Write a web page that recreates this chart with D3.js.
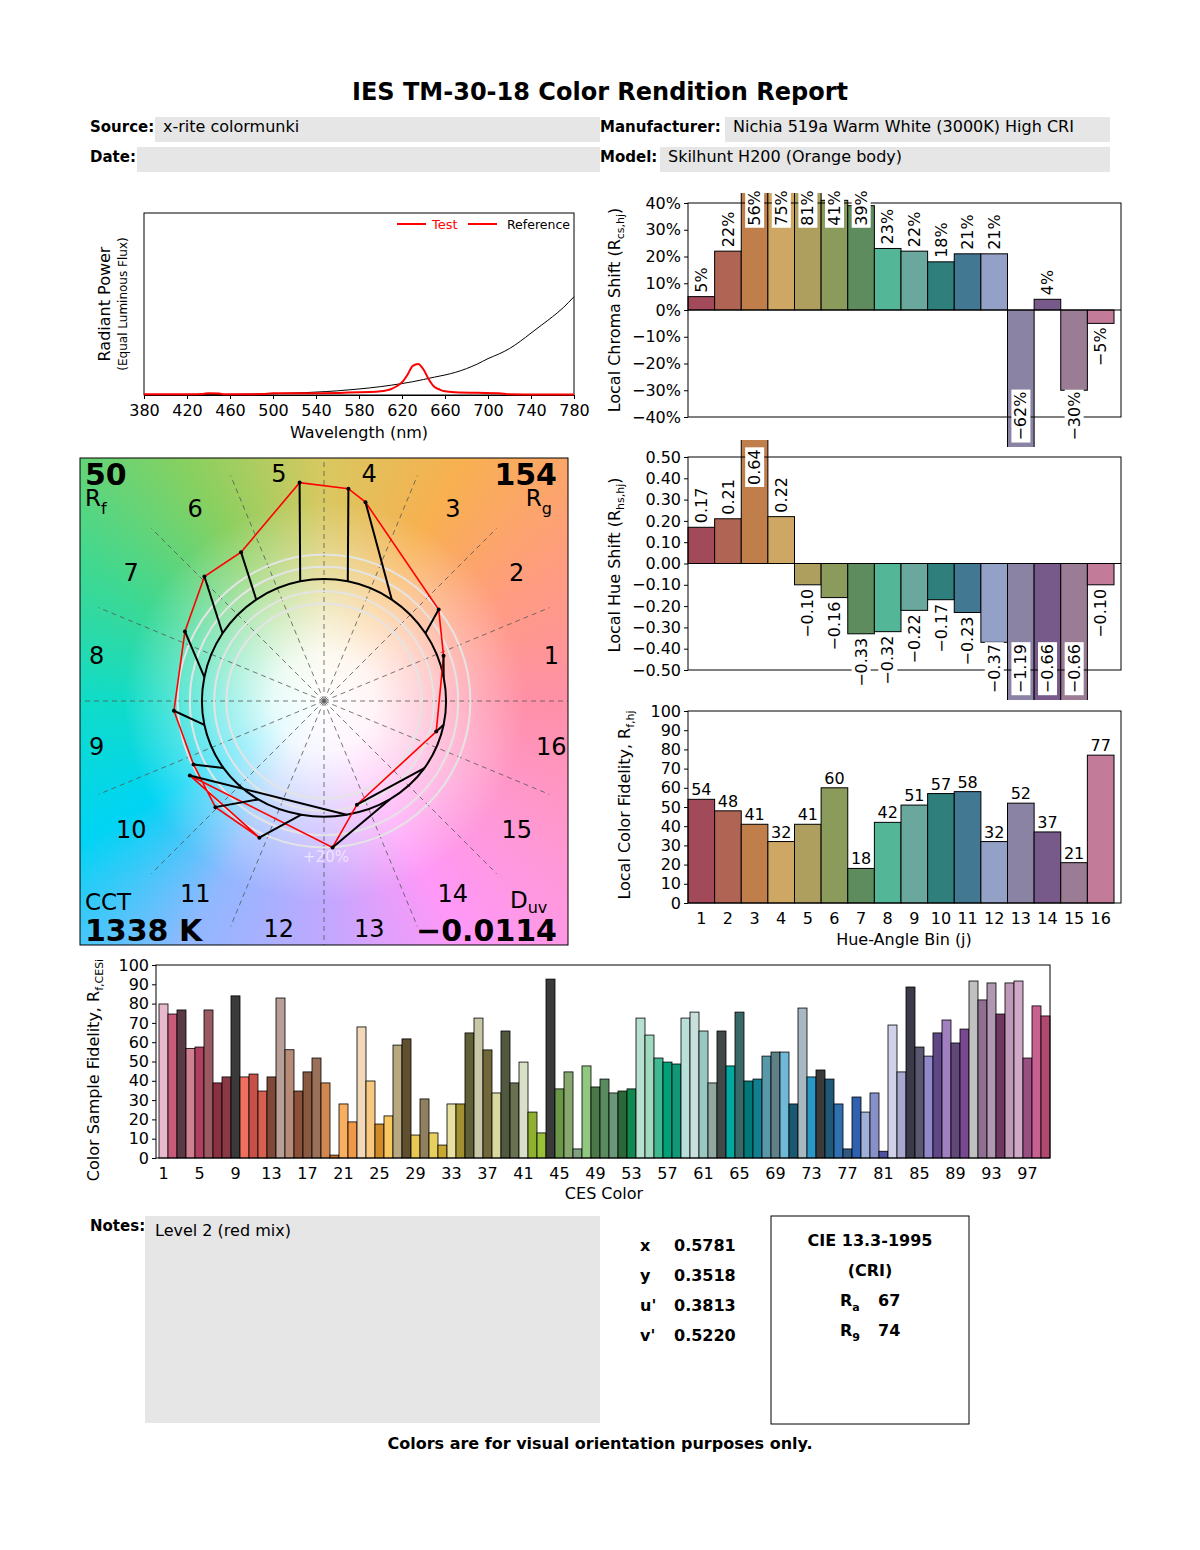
<!DOCTYPE html>
<html lang="en">
<head>
<meta charset="UTF-8">
<title>IES TM-30-18 Color Rendition Report</title>
<script src="https://cdn.jsdelivr.net/npm/d3@7"></script>
<style>
  body { margin: 0; background: #fff; font-family: "DejaVu Sans", sans-serif; }
  #wrap { position: relative; width: 1200px; height: 1550px; }
  #vg { position: absolute; left: 80px; top: 458px; width: 488px; height: 487px;
    background:
      radial-gradient(circle at 50% 50%, rgba(255,255,255,1) 0px, rgba(255,255,255,0.9) 50px, rgba(255,255,255,0.45) 120px, rgba(255,255,255,0) 200px),
      conic-gradient(from 90deg at 50% 50%, #ff90a8 0deg, #ff98d0 30deg, #ff98f8 60deg, #c0a8ff 90deg, #90b8ff 120deg, #00d4f4 150deg, #10dcc8 180deg, #40d890 210deg, #88d060 240deg, #d8c860 270deg, #f8b050 300deg, #ff9c80 330deg, #ff90a8 360deg);
  }
  svg { position: absolute; left: 0; top: 0; }
</style>
</head>
<body>
<div id="wrap">
  <div id="vg"></div>
  <svg id="chart" width="1200" height="1550"></svg>
</div>
<script>
// ---- data ----
const binLabels = d3.range(1, 17);
const binColors = ["#a34a5a", "#b06454", "#c07e4a", "#cfa765", "#ae9f5e", "#8b9b5c", "#5f8c5e", "#52b697",
  "#6aa89d", "#2f7f7c", "#437893", "#94a1c6", "#8a83a3", "#785a8a", "#9a7d94", "#c27c9a"];
const chromaShift = [0.05, 0.22, 0.56, 0.75, 0.81, 0.41, 0.39, 0.23, 0.22, 0.18, 0.21, 0.21, -0.62, 0.04, -0.30, -0.05];
const hueShift = [0.17, 0.21, 0.64, 0.22, -0.10, -0.16, -0.33, -0.32, -0.22, -0.17, -0.23, -0.37, -1.19, -0.66, -0.66, -0.10];
const binFidelity = [54, 48, 41, 32, 41, 60, 18, 42, 51, 57, 58, 32, 52, 37, 21, 77];

const cesValues = [79.8, 74.6, 76.7, 56.8, 57.5, 76.7, 38.9, 42, 84, 42, 43.5, 34.7, 42, 82.9, 56.1, 34.7, 44.6, 51.8, 38.9, 1.5,
  28, 18.7, 67.9, 39.9, 17.6, 21.8, 58.5, 61.7, 11.9, 30.6, 13, 6.7, 28, 28, 64.8, 72.5, 56, 33.7, 65.8, 38.9,
  49.7, 23.8, 13, 92.7, 35.8, 44.6, 4.7, 47.7, 36.8, 40.9, 33.7, 34.7, 35.8, 72.5, 63.7, 51.8, 49.7, 48.7, 72.5, 75.6,
  65.8, 38.9, 65.8, 47.7, 75.6, 39.9, 40.9, 52.8, 54.9, 54.9, 28, 77.7, 42, 45.6, 40.9, 28, 4.7, 31.6, 23.8, 33.7,
  3.5, 68.9, 44.6, 88.6, 57.5, 52.8, 64.8, 71.5, 59.6, 66.8, 91.7, 81.9, 90.7, 74.6, 90.7, 91.7, 51.8, 78.8, 73.6];
const cesColors = ["#e8b8cc", "#c85a7a", "#5a3a44", "#d08090", "#b04060", "#9a5a62", "#8a3040", "#8a3a44", "#3a3a3a", "#f07060",
  "#c85048", "#d86050", "#804838", "#b8a098", "#b88a78", "#8a5038", "#8a5a40", "#9a7058", "#d08850", "#d07020",
  "#f8b060", "#f09848", "#f0d8b8", "#f8c880", "#d08a28", "#f8c860", "#b8a880", "#605030", "#e8c850", "#908060",
  "#e8d060", "#c8a830", "#e8e0a0", "#a09030", "#606038", "#c8c8a8", "#706838", "#d8d8a0", "#505840", "#687050",
  "#d8e0c8", "#90b030", "#98c038", "#3a3a3a", "#6a9848", "#88a870", "#80a080", "#90c880", "#4a7848", "#5a8a60",
  "#6a9878", "#2a6838", "#108850", "#b8e0d0", "#a0d8c0", "#40b890", "#00a078", "#109878", "#b8e0d8", "#c8e0dc",
  "#98c8c0", "#90a8a0", "#404848", "#00a8a0", "#386868", "#007878", "#108090", "#5898a8", "#608088", "#70b8d8",
  "#185870", "#a8b8c0", "#2898c8", "#3a3a3a", "#205878", "#3070b0", "#305880", "#3060b0", "#a0b0d8", "#8890c8",
  "#5050a0", "#d0d0e8", "#a8a8d0", "#3a3a48", "#585870", "#9088c8", "#604888", "#a080c0", "#604878", "#784890",
  "#c0c0c0", "#907090", "#b098b0", "#703860", "#c098b8", "#d0a8c8", "#985080", "#c86090", "#b04870"];
const cesTicks = d3.range(1, 100, 4);

// spectrum, relative power (1 = top of plot)
const wavelengths = d3.range(380, 781, 10);
const refPower = [0, 0, 0, 0.001, 0.001, 0.001, 0.002, 0.002, 0.003, 0.004, 0.005, 0.006, 0.007, 0.009, 0.011, 0.013, 0.016,
  0.019, 0.023, 0.028, 0.033, 0.039, 0.046, 0.054, 0.063, 0.073, 0.085, 0.098, 0.11, 0.125, 0.145, 0.17, 0.20,
  0.225, 0.255, 0.295, 0.34, 0.385, 0.43, 0.48, 0.54];
const testWl = [380, 400, 420, 435, 440, 450, 455, 470, 490, 500, 520, 540, 560, 570, 590, 600, 605, 610, 615, 620, 625,
  630, 635, 640, 645, 650, 655, 660, 670, 690, 710, 720, 740, 780];
const testPower = [0.004, 0.004, 0.004, 0.006, 0.01, 0.008, 0.004, 0.004, 0.005, 0.009, 0.01, 0.01, 0.011, 0.014, 0.016, 0.02,
  0.025, 0.033, 0.048, 0.07, 0.11, 0.16, 0.17, 0.14, 0.085, 0.045, 0.03, 0.02, 0.015, 0.012, 0.01, 0.004, 0.003, 0.003];

// vector graphic: test & reference chroma coords per hue bin (1 = reference radius)
const testX = [0.98, 0.94, 0.34, 0.20, -0.20, -0.68, -0.98, -1.14, -1.23, -1.07, -0.89, -0.53, -1.10, 0.07, 0.27, 0.92];
const testY = [0.37, 0.75, 1.63, 1.74, 1.79, 1.22, 1.02, 0.57, -0.08, -0.52, -0.87, -1.12, -0.61, -1.20, -0.85, -0.25];
const refRadius = [1.0, 1.0, 1.0, 1.0, 1.0, 1.0, 1.0, 1.0, 1.0, 0.99, 0.97, 0.95, 0.95, 0.97, 0.99, 1.0];
const ringRadii = [0.8, 0.9, 1.1, 1.2];

const svg = d3.select("#chart");
const defs = svg.append("defs");
const F = "DejaVu Sans, sans-serif";

// ---- header ----
svg.append("text").attr("x", 600).attr("y", 100).attr("text-anchor", "middle")
  .attr("font-size", 24).attr("font-weight", "bold").text("IES TM-30-18 Color Rendition Report");
const fields = [
  { label: "Source:", lx: 90, bx: 155, bw: 445, y: 117, value: "x-rite colormunki" },
  { label: "Date:", lx: 90, bx: 137, bw: 463, y: 147, value: "" },
  { label: "Manufacturer:", lx: 600, bx: 725, bw: 385, y: 117, value: "Nichia 519a Warm White (3000K) High CRI" },
  { label: "Model:", lx: 600, bx: 660, bw: 450, y: 147, value: "Skilhunt H200 (Orange body)" }
];
fields.forEach(f => {
  svg.append("rect").attr("x", f.bx).attr("y", f.y).attr("width", f.bw).attr("height", 25).attr("fill", "#e6e6e6");
  svg.append("text").attr("x", f.lx).attr("y", f.y + 15).attr("font-size", 15).attr("font-weight", "bold").text(f.label);
  svg.append("text").attr("x", f.bx + 8).attr("y", f.y + 15).attr("font-size", 16).text(f.value);
});

// ---- spectrum ----
{
  const x = d3.scaleLinear().domain([380, 780]).range([144, 574]);
  const y = d3.scaleLinear().domain([0, 1]).range([395, 213]);
  svg.append("rect").attr("x", 144).attr("y", 213).attr("width", 430).attr("height", 182)
    .attr("fill", "none").attr("stroke", "#000");
  svg.append("g").attr("transform", "translate(0,395)")
    .call(d3.axisBottom(x).tickValues(d3.range(380, 781, 40)).tickSize(4).tickSizeOuter(0))
    .call(g => g.selectAll("text").attr("font-size", 16).attr("font-family", F).attr("dy", "0.9em"));
  const line = d3.line().x(d => x(d[0])).y(d => y(d[1])).curve(d3.curveMonotoneX);
  svg.append("path").datum(wavelengths.map((w, i) => [w, refPower[i]]))
    .attr("d", line).attr("fill", "none").attr("stroke", "#000").attr("stroke-width", 1);
  svg.append("path").datum(testWl.map((w, i) => [w, testPower[i]]))
    .attr("d", line).attr("fill", "none").attr("stroke", "#f00").attr("stroke-width", 2);
  svg.append("text").attr("x", 359).attr("y", 438).attr("text-anchor", "middle").attr("font-size", 16).text("Wavelength (nm)");
  svg.append("text").attr("transform", "translate(110,304) rotate(-90)").attr("text-anchor", "middle")
    .attr("font-size", 16).text("Radiant Power");
  svg.append("text").attr("transform", "translate(127,304) rotate(-90)").attr("text-anchor", "middle")
    .attr("font-size", 12).text("(Equal Luminous Flux)");
  svg.append("line").attr("x1", 397).attr("x2", 426).attr("y1", 224).attr("y2", 224).attr("stroke", "#f00").attr("stroke-width", 2);
  svg.append("text").attr("x", 432).attr("y", 229).attr("font-size", 13).attr("fill", "#f00").text("Test");
  svg.append("line").attr("x1", 468).attr("x2", 497).attr("y1", 224).attr("y2", 224).attr("stroke", "#f00").attr("stroke-width", 2);
  svg.append("text").attr("x", 507).attr("y", 229).attr("font-size", 12.5).text("Reference");
}

// ---- vector graphic ----
{
  const cx = 324, cy = 701, R = 122;
  const sx = d3.scaleLinear().domain([0, 1]).range([cx, cx + R]);
  const sy = d3.scaleLinear().domain([0, 1]).range([cy, cy - R]);
  defs.append("clipPath").attr("id", "vclip").append("rect")
    .attr("x", 80).attr("y", 458).attr("width", 488).attr("height", 487);
  const g = svg.append("g").attr("clip-path", "url(#vclip)");
  const ang = j => (j + 0.5) * 22.5 * Math.PI / 180;
  // dashed spokes
  d3.range(16).forEach(j => {
    const a = j * 22.5 * Math.PI / 180;
    const len = (j % 4 === 0) ? 2.2 : 2.0;
    g.append("line").attr("x1", sx(0)).attr("y1", sy(0))
      .attr("x2", sx(len * Math.cos(a))).attr("y2", sy(len * Math.sin(a)))
      .attr("stroke", "#555").attr("stroke-width", 0.8).attr("stroke-dasharray", "5,4");
  });
  ringRadii.forEach(r => g.append("circle").attr("cx", cx).attr("cy", cy).attr("r", sx(r) - cx)
    .attr("fill", "none").attr("stroke", "#e4e4e4").attr("stroke-width", 2));
  const refPts = refRadius.map((r, j) => [sx(r * Math.cos(ang(j))), sy(r * Math.sin(ang(j)))]);
  g.append("path").attr("d", d3.line().curve(d3.curveCardinalClosed)(refPts))
    .attr("fill", "none").attr("stroke", "#000").attr("stroke-width", 2);
  const testPts = testX.map((v, j) => [sx(v), sy(testY[j])]);
  g.append("path").attr("d", d3.line().curve(d3.curveLinearClosed)(testPts))
    .attr("fill", "none").attr("stroke", "#f00").attr("stroke-width", 1.6);
  testPts.forEach((p, j) => {
    g.append("line").attr("x1", refPts[j][0]).attr("y1", refPts[j][1]).attr("x2", p[0]).attr("y2", p[1])
      .attr("stroke", "#000").attr("stroke-width", 2);
    g.append("circle").attr("cx", p[0]).attr("cy", p[1]).attr("r", 2).attr("fill", "#000");
  });
  binLabels.forEach((b, j) => {
    const a = ang(j), rr = 1.9;
    g.append("text").attr("x", sx(rr * Math.cos(a))).attr("y", sy(rr * Math.sin(a)))
      .attr("dy", "0.35em").attr("text-anchor", "middle").attr("font-size", 24).text(b);
  });
  g.append("text").attr("x", cx + 2).attr("y", 862).attr("text-anchor", "middle").attr("font-size", 15)
    .attr("fill", "#fff").attr("opacity", 0.6).text("+20%");
  svg.append("rect").attr("x", 80).attr("y", 458).attr("width", 488).attr("height", 487)
    .attr("fill", "none").attr("stroke", "#000");
  const big = (t, x, y, anchor, size, bold) => g.append("text").attr("x", x).attr("y", y).attr("text-anchor", anchor)
    .attr("font-size", size).attr("font-weight", bold ? "bold" : null).text(t);
  big("50", 85, 485, "start", 30, true);
  const rf = big("R", 85, 506, "start", 23); rf.append("tspan").attr("font-size", 16).attr("dy", 8).text("f");
  big("154", 557, 485, "end", 30, true);
  const rgt = g.append("text").attr("x", 552).attr("y", 506).attr("text-anchor", "end").attr("font-size", 23).text("R");
  rgt.append("tspan").attr("font-size", 16).attr("dy", 8).text("g");
  big("CCT", 85, 910, "start", 23);
  big("1338 K", 85, 941, "start", 30, true);
  const duv = g.append("text").attr("x", 510).attr("y", 908).attr("font-size", 23).text("D");
  duv.append("tspan").attr("font-size", 16).attr("dy", 5).text("uv");
  big("\u22120.0114", 557, 941, "end", 30, true);
}

// ---- bar-chart helper ----
const xBin = d3.scaleBand().domain(binLabels).range([688, 1114]).padding(0);

function rotatedLabel(x, yPos, txt, above) {
  const t = svg.append("text").attr("transform", `translate(${x},${yPos}) rotate(-90)`)
    .attr("text-anchor", above ? "start" : "end").attr("dy", "0.35em").attr("font-size", 16).text(txt);
  const bb = t.node().getBBox();
  svg.insert("rect", () => t.node()).attr("transform", `translate(${x},${yPos}) rotate(-90)`)
    .attr("x", bb.x - 2).attr("y", bb.y).attr("width", bb.width + 4).attr("height", bb.height).attr("fill", "#fff");
}

// ---- local chroma shift ----
{
  const y = d3.scaleLinear().domain([-0.4, 0.4]).range([417, 203]);
  defs.append("clipPath").attr("id", "cclip").append("rect")
    .attr("x", 680).attr("y", 193).attr("width", 450).attr("height", 254);
  svg.append("g").attr("clip-path", "url(#cclip)").selectAll("rect").data(chromaShift).join("rect")
    .attr("x", (d, i) => xBin(binLabels[i])).attr("width", xBin.bandwidth())
    .attr("y", d => y(Math.max(d, 0))).attr("height", d => Math.abs(y(d) - y(0)))
    .attr("fill", (d, i) => binColors[i]).attr("stroke", "#000").attr("stroke-width", 1);
  svg.append("rect").attr("x", 688).attr("y", 203).attr("width", 433).attr("height", 214)
    .attr("fill", "none").attr("stroke", "#000");
  svg.append("line").attr("x1", 688).attr("x2", 1121).attr("y1", y(0)).attr("y2", y(0)).attr("stroke", "#000");
  svg.append("g").attr("transform", "translate(688,0)")
    .call(d3.axisLeft(y).ticks(8).tickFormat(d => d3.format(".0%")(d).replace("-", "\u2212")).tickSize(4))
    .call(g => g.select(".domain").remove())
    .call(g => g.selectAll("text").attr("font-size", 16).attr("font-family", F));
  chromaShift.forEach((v, i) => {
    const cxp = xBin(binLabels[i]) + xBin.bandwidth() / 2;
    const txt = (v < 0 ? "\u2212" : "") + Math.round(Math.abs(v) * 100) + "%";
    if (v >= 0) rotatedLabel(cxp, y(Math.min(v, 0.30)) - 4, txt, true);
    else rotatedLabel(cxp, y(Math.max(v, -0.29)) + 4, txt, false);
  });
  svg.append("text").attr("transform", "translate(620,310) rotate(-90)").attr("text-anchor", "middle")
    .attr("font-size", 16).text("Local Chroma Shift (R").call(t => {
      t.append("tspan").attr("font-size", 11).attr("dy", 4).text("cs,hj");
      t.append("tspan").attr("dy", -4).text(")");
    });
}

// ---- local hue shift ----
{
  const y = d3.scaleLinear().domain([-0.5, 0.5]).range([670, 457]);
  defs.append("clipPath").attr("id", "hclip").append("rect")
    .attr("x", 680).attr("y", 440).attr("width", 450).attr("height", 260);
  svg.append("g").attr("clip-path", "url(#hclip)").selectAll("rect").data(hueShift).join("rect")
    .attr("x", (d, i) => xBin(binLabels[i])).attr("width", xBin.bandwidth())
    .attr("y", d => y(Math.max(d, 0))).attr("height", d => Math.abs(y(d) - y(0)))
    .attr("fill", (d, i) => binColors[i]).attr("stroke", "#000").attr("stroke-width", 1);
  svg.append("rect").attr("x", 688).attr("y", 457).attr("width", 433).attr("height", 213)
    .attr("fill", "none").attr("stroke", "#000");
  svg.append("line").attr("x1", 688).attr("x2", 1121).attr("y1", y(0)).attr("y2", y(0)).attr("stroke", "#000");
  svg.append("g").attr("transform", "translate(688,0)")
    .call(d3.axisLeft(y).ticks(10).tickFormat(d => d3.format(".2f")(d).replace("-", "\u2212")).tickSize(4))
    .call(g => g.select(".domain").remove())
    .call(g => g.selectAll("text").attr("font-size", 16).attr("font-family", F));
  hueShift.forEach((v, i) => {
    const cxp = xBin(binLabels[i]) + xBin.bandwidth() / 2;
    const txt = d3.format(".2f")(v).replace("-", "\u2212");
    if (v >= 0) rotatedLabel(cxp, y(Math.min(v, 0.35)) - 4, txt, true);
    else rotatedLabel(cxp, y(Math.max(v, -0.36)) + 4, txt, false);
  });
  svg.append("text").attr("transform", "translate(620,565) rotate(-90)").attr("text-anchor", "middle")
    .attr("font-size", 16).text("Local Hue Shift (R").call(t => {
      t.append("tspan").attr("font-size", 11).attr("dy", 4).text("hs,hj");
      t.append("tspan").attr("dy", -4).text(")");
    });
}

// ---- local color fidelity ----
{
  const y = d3.scaleLinear().domain([0, 100]).range([903, 711]);
  svg.append("g").selectAll("rect").data(binFidelity).join("rect")
    .attr("x", (d, i) => xBin(binLabels[i])).attr("width", xBin.bandwidth())
    .attr("y", d => y(d)).attr("height", d => y(0) - y(d))
    .attr("fill", (d, i) => binColors[i]).attr("stroke", "#000").attr("stroke-width", 1);
  svg.append("rect").attr("x", 688).attr("y", 711).attr("width", 433).attr("height", 192)
    .attr("fill", "none").attr("stroke", "#000");
  svg.append("g").attr("transform", "translate(688,0)")
    .call(d3.axisLeft(y).ticks(10).tickSize(4))
    .call(g => g.select(".domain").remove())
    .call(g => g.selectAll("text").attr("font-size", 16).attr("font-family", F));
  svg.append("g").selectAll("text").data(binFidelity).join("text")
    .attr("x", (d, i) => xBin(binLabels[i]) + xBin.bandwidth() / 2).attr("y", d => y(d) - 4)
    .attr("text-anchor", "middle").attr("font-size", 16).text(d => d);
  svg.append("g").attr("transform", "translate(0,903)")
    .call(d3.axisBottom(xBin).tickSize(0))
    .call(g => g.select(".domain").remove())
    .call(g => g.selectAll("text").attr("font-size", 16).attr("font-family", F).attr("dy", "1.1em"));
  svg.append("text").attr("x", 904).attr("y", 945).attr("text-anchor", "middle").attr("font-size", 16).text("Hue-Angle Bin (j)");
  svg.append("text").attr("transform", "translate(630,805) rotate(-90)").attr("text-anchor", "middle")
    .attr("font-size", 16).text("Local Color Fidelity, R").call(t => {
      t.append("tspan").attr("font-size", 11).attr("dy", 4).text("f,hj");
    });
}

// ---- CES fidelity ----
{
  const ces = d3.range(1, 100);
  const x = d3.scaleBand().domain(ces).range([159, 1050]).padding(0);
  const y = d3.scaleLinear().domain([0, 100]).range([1158, 965]);
  svg.append("g").selectAll("rect").data(cesValues).join("rect")
    .attr("x", (d, i) => x(ces[i])).attr("width", x.bandwidth())
    .attr("y", d => y(d)).attr("height", d => y(0) - y(d))
    .attr("fill", (d, i) => cesColors[i]).attr("stroke", "#000").attr("stroke-width", 0.8);
  svg.append("rect").attr("x", 156).attr("y", 965).attr("width", 894).attr("height", 193)
    .attr("fill", "none").attr("stroke", "#000");
  svg.append("g").attr("transform", "translate(156,0)")
    .call(d3.axisLeft(y).ticks(10).tickSize(4))
    .call(g => g.select(".domain").remove())
    .call(g => g.selectAll("text").attr("font-size", 16).attr("font-family", F));
  svg.append("g").attr("transform", "translate(0,1158)")
    .call(d3.axisBottom(x).tickValues(cesTicks).tickSize(0))
    .call(g => g.select(".domain").remove())
    .call(g => g.selectAll("text").attr("font-size", 16).attr("font-family", F).attr("dy", "1.1em"));
  svg.append("text").attr("x", 604).attr("y", 1199).attr("text-anchor", "middle").attr("font-size", 16).text("CES Color");
  svg.append("text").attr("transform", "translate(99,1070) rotate(-90)").attr("text-anchor", "middle")
    .attr("font-size", 16).text("Color Sample Fidelity, R").call(t => {
      t.append("tspan").attr("font-size", 11).attr("dy", 4).text("f,CESi");
    });
}

// ---- footer ----
svg.append("text").attr("x", 90).attr("y", 1231).attr("font-size", 15).attr("font-weight", "bold").text("Notes:");
svg.append("rect").attr("x", 145).attr("y", 1216).attr("width", 455).attr("height", 207).attr("fill", "#e6e6e6");
svg.append("text").attr("x", 155).attr("y", 1236).attr("font-size", 16).text("Level 2 (red mix)");
const coordLabels = ["x", "y", "u'", "v'"];
const coordValues = ["0.5781", "0.3518", "0.3813", "0.5220"];
coordLabels.forEach((l, i) => {
  svg.append("text").attr("x", 640).attr("y", 1251 + i * 30).attr("font-size", 16).attr("font-weight", "bold").text(l);
  svg.append("text").attr("x", 674).attr("y", 1251 + i * 30).attr("font-size", 16).attr("font-weight", "bold").text(coordValues[i]);
});
svg.append("rect").attr("x", 771).attr("y", 1216).attr("width", 198).attr("height", 208).attr("fill", "none").attr("stroke", "#000");
svg.append("text").attr("x", 870).attr("y", 1246).attr("text-anchor", "middle").attr("font-size", 16).attr("font-weight", "bold").text("CIE 13.3-1995");
svg.append("text").attr("x", 870).attr("y", 1276).attr("text-anchor", "middle").attr("font-size", 16).attr("font-weight", "bold").text("(CRI)");
[["a", "67"], ["9", "74"]].forEach((r, i) => {
  const t = svg.append("text").attr("x", 840).attr("y", 1306 + i * 30).attr("font-size", 16).attr("font-weight", "bold").text("R");
  t.append("tspan").attr("font-size", 11).attr("dy", 5).text(r[0]);
  svg.append("text").attr("x", 878).attr("y", 1306 + i * 30).attr("font-size", 16).attr("font-weight", "bold").text(r[1]);
});
svg.append("text").attr("x", 600).attr("y", 1449).attr("text-anchor", "middle").attr("font-size", 16).attr("font-weight", "bold")
  .text("Colors are for visual orientation purposes only.");
</script>
</body>
</html>
